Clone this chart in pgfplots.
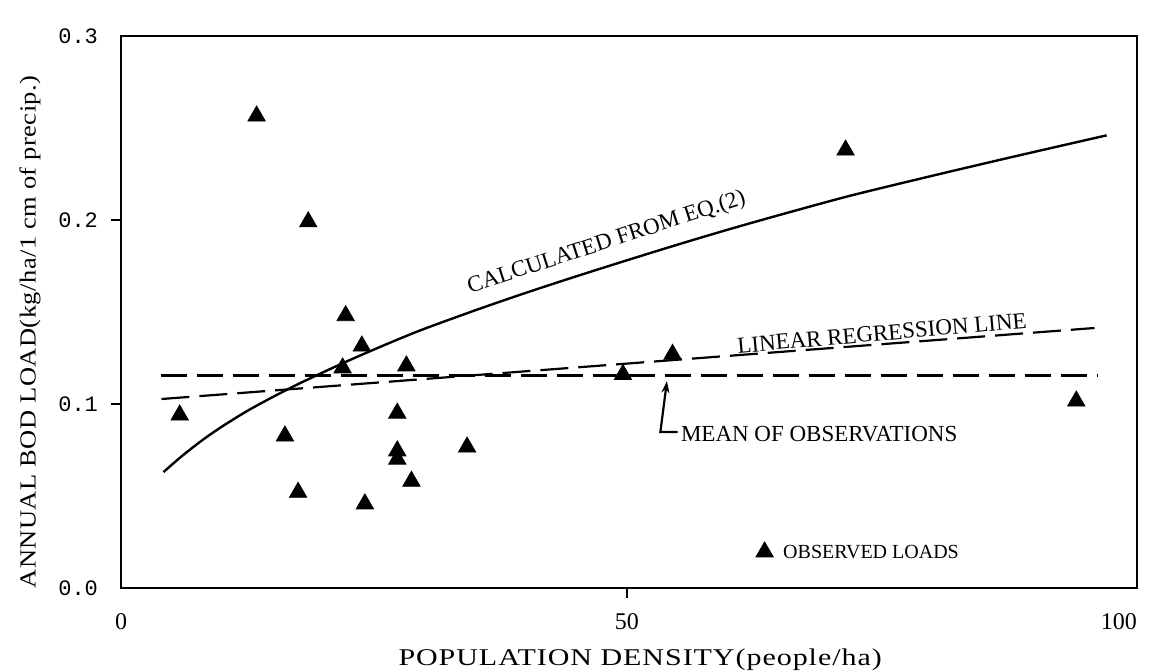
\documentclass[border=0pt]{standalone}
\usepackage{pgfplots}
\pgfplotsset{compat=1.18}
\usepackage{fontspec}
\setmainfont{Liberation Serif}
\newfontfamily\xlab[FakeStretch=1.25, LetterSpace=4]{Liberation Serif}
\newfontfamily\ylab[FakeStretch=1.15, LetterSpace=2]{Liberation Serif}
\newfontfamily\tickmono{Liberation Mono}
\usetikzlibrary{arrows.meta}
\begin{document}
\begin{tikzpicture}
\begin{axis}[
 name=ax,
 scale only axis, width=508pt, height=276pt,
 xmin=0, xmax=100.4, ymin=0, ymax=0.3,
 clip=false,
 axis line style={line width=1.4pt},
 xtick={50}, ytick={0.1,0.2},
 extra x ticks={0,98.6}, extra x tick labels={0,100},
 extra y ticks={0,0.3},
 extra tick style={tick style={draw=none}},
 xtick pos=bottom, ytick pos=left,
 tick align=outside, major tick length=5pt,
 tick style={line width=1.2pt, black},
 /pgf/number format/assume math mode=true,
 /pgf/number format/fixed, /pgf/number format/fixed zerofill, /pgf/number format/precision=1,
 x tick label style={font=\fontsize{12}{12}\selectfont, yshift=-4pt, /pgf/number format/precision=0, /pgf/number format/fixed zerofill=false},
 y tick label style={font=\tickmono\fontsize{11}{11}\selectfont, xshift=-3pt},
 xlabel={POPULATION DENSITY(people/ha)},
 xlabel style={at={(axis description cs:0.511,-0.1304)}, anchor=center, font=\xlab\fontsize{12}{12}\selectfont},
 ylabel={ANNUAL BOD LOAD(kg/ha/1 cm of precip.)},
 ylabel style={at={(axis description cs:-0.0896,0.464)}, anchor=center, rotate=0, font=\ylab\fontsize{11.5}{11.5}\selectfont},
]
% observed loads
\addplot[only marks, mark=triangle*, mark size=5pt, black] coordinates {
(5.8,0.094) (13.4,0.2565) (18.5,0.199) (16.2,0.0826) (17.5,0.052)
(22.2,0.148) (21.9,0.1196) (23.8,0.1315) (24.1,0.0457) (27.3,0.095)
(27.3,0.0745) (27.3,0.070) (28.2,0.1207) (28.7,0.058) (34.2,0.0766)
(49.6,0.116) (54.5,0.127) (71.6,0.238) (94.4,0.1016)
};
% calculated from eq. (2)
\addplot[black, line width=1.2pt, smooth] coordinates {
(4.2,0.063) (6,0.0716) (8,0.0802) (10,0.0878) (12.5,0.0963) (15,0.1038) (17.5,0.1108)
(20,0.1173) (22.5,0.1236) (25,0.1296) (27.5,0.1354) (30,0.1409) (35,0.1509) (40,0.1604)
(45,0.1694) (50,0.1781) (55,0.1866) (60,0.1948) (65,0.2026) (72,0.2131) (80,0.2238)
(85,0.2303) (90,0.2367) (97.4,0.2460)
};
% linear regression line
\addplot[black, line width=1.1pt, dash pattern=on 14pt off 5pt] coordinates {
(4.0,0.1027) (96.2,0.1413)
};
% mean of observations
\addplot[black, line width=1.1pt, dash pattern=on 13pt off 5pt] coordinates {
(4.0,0.1155) (96.5,0.1155)
};
% legend mark
\addplot[only marks, mark=triangle*, mark size=5pt, black] coordinates {(63.6,0.0196)};
\node[font=\fontsize{10}{10}\selectfont, anchor=west, inner sep=0pt] at (axis cs:65.4,0.0196) {OBSERVED LOADS};
\node[font=\fontsize{11.5}{11.5}\selectfont, rotate=18] at (axis cs:48.0,0.1875) {CALCULATED FROM EQ.(2)};
\node[font=\fontsize{11.5}{11.5}\selectfont, rotate=5] at (axis cs:75.2,0.1385) {LINEAR REGRESSION LINE};
\draw[line width=1.1pt, -{Stealth[length=6pt,width=4pt]}] (axis cs:55.0,0.0848) -- (axis cs:53.3,0.0848) -- (axis cs:53.95,0.1125);
\node[font=\fontsize{11.5}{11.5}\selectfont, anchor=west, inner sep=0pt] at (axis cs:55.3,0.0835) {MEAN OF OBSERVATIONS};
\end{axis}
\pgfresetboundingbox
\path ([shift={(-60.5pt,-42pt)}]ax.south west) rectangle ([shift={(6.5pt,18pt)}]ax.north east);
\end{tikzpicture}
\end{document}
